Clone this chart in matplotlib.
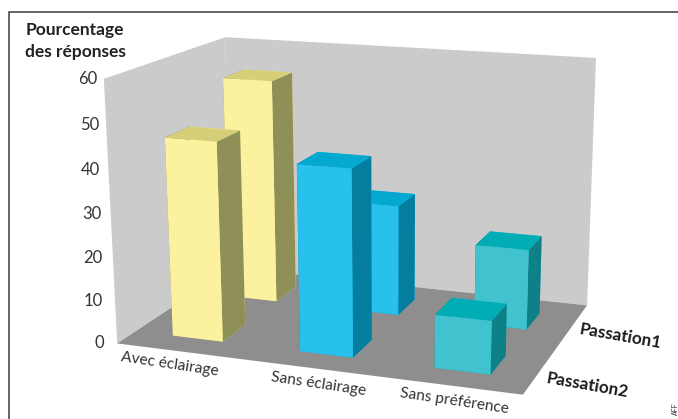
import numpy as np
import matplotlib
matplotlib.use("Agg")
import matplotlib.pyplot as plt
from matplotlib.lines import Line2D
from mpl_toolkits.mplot3d.art3d import Poly3DCollection

W_PX, H_PX = 678, 419

categories = ["Avec éclairage", "Sans éclairage", "Sans préférence"]
series_names = ["Passation2", "Passation1"]
passation2 = [46, 42.5, 12]
passation1 = [54, 26.5, 19]
z_ticks = [0, 10, 20, 30, 40, 50, 60]

front_colors = ["#FBF19F", "#28C1EE", "#40C2CF"]
top_colors = ["#D6CF78", "#05A8CF", "#00ADB5"]
side_colors = ["#8F8F58", "#047D9E", "#0E8087"]

# Camera: a homography from chart space (category, series, percent) to pixels,
# solved from where the box corners should land.
box_corners = np.array([[0, 0, 0], [0, 0, 60], [0, 2, 60], [3, 2, 60],
                        [3, 2, 0], [3, 0, 0], [0, 2, 0]], float)
box_pixels = np.array([[117, 343], [104, 79], [225, 37], [596, 58],
                       [587, 305], [523, 395], [232, 268]], float)


def solve_camera(world, pixels):
    rows, rhs = [], []
    for (x, y, z), (u, v) in zip(world, pixels):
        rows.append([x, y, z, 1, 0, 0, 0, 0, -u * x, -u * y, -u * z])
        rows.append([0, 0, 0, 0, x, y, z, 1, -v * x, -v * y, -v * z])
        rhs += [u, v]
    p = np.linalg.lstsq(np.array(rows), np.array(rhs), rcond=None)[0]
    return np.array([p[:4], p[4:8], [-0.2, 1.0, -0.01, 0.0], [p[8], p[9], p[10], 1.0]])


camera = solve_camera(box_corners, box_pixels)


def to_fig(x, y, z):
    """Figure-fraction position of a chart-space point."""
    u, v, _, w = camera @ np.array([x, y, z, 1.0])
    return u / w / W_PX, 1 - v / w / H_PX


plt.rcParams["font.family"] = ["Lato", "DejaVu Sans"]
fig = plt.figure(figsize=(W_PX / 100, H_PX / 100), dpi=100)
ax = fig.add_axes([0, 0, 1, 1], projection="3d", computed_zorder=False)
ax.get_proj = lambda: camera
ax.apply_aspect = lambda position=None: None
ax.set_axis_off()
ax.viewLim.intervalx = (0, W_PX)
ax.viewLim.intervaly = (H_PX, 0)

# Walls and floor
wall = "#CBCBCB"
floor = "#8E8E8E"
panels = [
    ([[0, 0, 0], [0, 2, 0], [0, 2, 60], [0, 0, 60]], wall),
    ([[0, 2, 0], [3, 2, 0], [3, 2, 60], [0, 2, 60]], wall),
    ([[0, 0, 0], [3, 0, 0], [3, 2, 0], [0, 2, 0]], floor),
]
for verts, col in panels:
    ax.add_collection3d(Poly3DCollection([verts], facecolors=col, edgecolors="none", zorder=1))
ax.plot([0, 0], [2, 2], [0, 60], color="#BDBDBD", lw=0.7, zorder=2)

# Gridlines along both walls, short ticks, and the value labels on the front edge
tick_col = "#DADADA"
for z in z_ticks:
    if 0 < z < 60:
        ax.plot([0, 0, 3], [0, 2, 2], [z, z, z], color="#ABABAB", lw=1.0, zorder=2)
    ax.plot([-0.04, 0], [0, 0], [z, z], color=tick_col, lw=0.8, zorder=2)
    px, py = to_fig(0, 0, z)
    fig.text(px - 13 / W_PX + (z / 60) * 7 / W_PX, py, str(z), ha="right", va="center",
             fontsize=12, color="#333333")
for x in range(4):
    ax.plot([x, x], [-0.06, 0], [0, 0], color=tick_col, lw=0.8, zorder=2)

# Bars, back row first
bar_w = 0.40
bar_d = 0.40
bar_x = 0.50
bar_y = 0.49
for row, values in [(1, passation1), (0, passation2)]:
    for i, value in enumerate(values):
        x0 = i + bar_x - bar_w / 2
        y0 = row + bar_y - bar_d / 2
        face_cols = [top_colors[i], top_colors[i], front_colors[i],
                     front_colors[i], side_colors[i], side_colors[i]]
        ax.bar3d(x0, y0, 0, bar_w, bar_d, value, color=face_cols, shade=False,
                 edgecolor="none", zorder=3 + (1 - row) * 3 + i * 0.1)

# Category labels below the front floor edge
category_label_x = [0.55, 1.66, 2.61]
for at, name in zip(category_label_x, categories):
    px, py = to_fig(at, -0.27, 0)
    fig.text(px, py, name, rotation=-8.5, ha="center", va="center",
             rotation_mode="anchor", fontsize=11.2, color="#333333")

# Series labels beside the right floor edge
series_label_y = [0.36, 1.42]
for at, name in zip(series_label_y, series_names):
    px, py = to_fig(3.07, at, 0)
    fig.text(px, py, name, rotation=-10, ha="left", va="center",
             rotation_mode="anchor", fontsize=12.3, fontweight="bold", color="#1A1A1A")

fig.text(75 / W_PX, 1 - 30 / H_PX, "Pourcentage", ha="center", va="center",
         fontsize=12.5, fontweight="bold", color="#222222")
fig.text(75 / W_PX, 1 - 52 / H_PX, "des réponses", ha="center", va="center",
         fontsize=12.5, fontweight="bold", color="#222222")

# Frame along the top and left edges
fig.add_artist(Line2D([9 / W_PX, 9 / W_PX, 1], [0, 1 - 12 / H_PX, 1 - 12 / H_PX],
                      color="#3A3A3A", lw=1.1, transform=fig.transFigure))

fig.text(675 / W_PX, 1 - 402 / H_PX, "AFF", rotation=90, ha="center", va="top",
         fontsize=5, color="#333333")

fig.savefig("out.png", dpi=100)
